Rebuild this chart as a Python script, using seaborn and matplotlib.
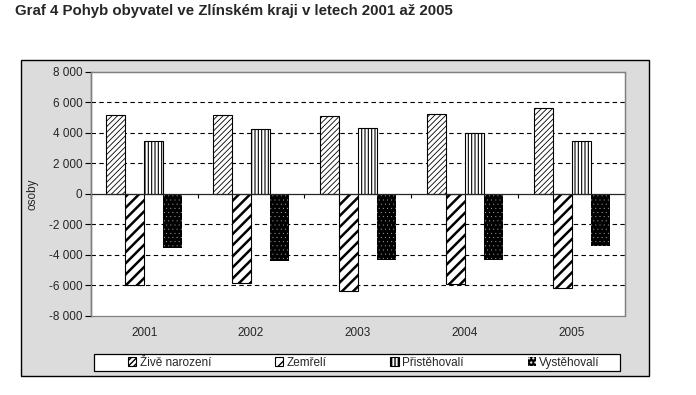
import pandas as pd
import numpy as np
import matplotlib
matplotlib.use("Agg")
import matplotlib.pyplot as plt
import matplotlib.patches as mpatches
import matplotlib.transforms as mtransforms
from matplotlib.ticker import FuncFormatter
import seaborn as sns

# data
roky = ["2001", "2002", "2003", "2004", "2005"]
ukazatele = ["Živě narození", "Zemřelí", "Přistěhovalí", "Vystěhovalí"]
zive_narozeni = [5200, 5200, 5100, 5250, 5650]
zemreli = [-5980, -5850, -6380, -5950, -6200]
pristehovali = [3450, 4250, 4330, 3980, 3500]
vystehovali = [-3540, -4400, -4350, -4330, -3450]
y_ticks = [-8000, -6000, -4000, -2000, 0, 2000, 4000, 6000, 8000]

df = pd.DataFrame({
    "rok": roky * 4,
    "ukazatel": np.repeat(ukazatele, len(roky)),
    "osoby": zive_narozeni + zemreli + pristehovali + vystehovali,
})

sns.set_style("white")
plt.rcParams["font.family"] = ["Liberation Sans", "DejaVu Sans"]

fig = plt.figure(figsize=(6.96, 3.95), dpi=100)
fig.patch.set_facecolor("white")

# grey chart area with black border
fig.patches.append(mpatches.Rectangle((20.5 / 696, 1 - 375.5 / 395), 628 / 696, 316 / 395,
                                      transform=fig.transFigure, facecolor="#dcdcdc",
                                      edgecolor="black", linewidth=1, zorder=-10))
# legend box
fig.patches.append(mpatches.Rectangle((93.5 / 696, 1 - 370.8 / 395), 526 / 696, 16.5 / 395,
                                      transform=fig.transFigure, facecolor="white",
                                      edgecolor="black", linewidth=0.9, zorder=-5))

ax = fig.add_axes([90.7 / 696, 1 - 315.7 / 395, 534.3 / 696, 243.7 / 395])
ax.set_facecolor("white")

sns.barplot(data=df, x="rok", y="osoby", hue="ukazatel", hue_order=ukazatele,
            palette=["white"] * 4, width=0.71, edgecolor="black", linewidth=0.8,
            saturation=1, legend=False, ax=ax, zorder=3)

styles = [
    dict(hatch="//////", face="white", edge="black", hlw=0.6),
    dict(hatch="///", face="white", edge="black", hlw=1.8),
    dict(hatch="|||||", face="white", edge="black", hlw=0.8),
    dict(hatch="....", face="black", edge="white", hlw=0.05),
]
for cont, st in zip(ax.containers, styles):
    for p in cont.patches:
        p.set_hatch(st["hatch"])
        p.set_facecolor(st["face"])
        p.set_edgecolor(st["edge"])
        if hasattr(p, "set_hatch_linewidth"):
            p.set_hatch_linewidth(st["hlw"])
        if st["face"] == "black":
            p.set_linewidth(0)

ax.set_ylim(y_ticks[0], y_ticks[-1])
ax.set_xlim(-0.5, len(roky) - 0.5)
ax.set_yticks(y_ticks)
ax.yaxis.set_major_formatter(FuncFormatter(lambda v, pos: f"{int(v):,}".replace(",", " ")))
ax.tick_params(axis="y", direction="out", length=4, width=0.8, color="black",
               labelsize=8.5, pad=2, left=True)

# dashed grid, without the lines on the frame
ax.yaxis.grid(True, color="black", linestyle=(0, (4, 3)), linewidth=0.8)
ax.set_axisbelow(True)
for i, gl in enumerate(ax.yaxis.get_gridlines()):
    if y_ticks[i] in (y_ticks[0], y_ticks[-1], 0):
        gl.set_visible(False)

# category axis on the zero line, ticks between categories
ax.spines["bottom"].set_position(("data", 0))
ax.spines["bottom"].set_linewidth(0.9)
ax.spines["bottom"].set_zorder(4)
ax.set_xticks(np.arange(len(roky) + 1) - 0.5)
ax.set_xticklabels([])
ax.tick_params(axis="x", direction="out", length=3, width=0.8, color="black", bottom=True)
ax.set_xlabel("")

for s in ["top", "right"]:
    ax.spines[s].set_color("#808080")
    ax.spines[s].set_linewidth(0.9)
ax.spines["left"].set_color("black")
ax.spines["left"].set_linewidth(0.9)
ax.add_patch(mpatches.Rectangle((0, 0), 1, 1, transform=ax.transAxes, fill=False,
                                edgecolor="#808080", linewidth=0.9, zorder=5, clip_on=False))

trans = mtransforms.blended_transform_factory(ax.transData, ax.transAxes)
for i, r in enumerate(roky):
    ax.text(i, -0.07, r, transform=trans, ha="center", va="center", fontsize=8.5)

ax.set_ylabel("osoby", fontsize=8.5)
ax.yaxis.set_label_coords(-0.098, 0.5)

leg = fig.legend(ax.containers, ukazatele, loc="center left", ncol=4, mode="expand",
                 bbox_to_anchor=(128 / 696, 1 - 370.8 / 395, 472 / 696, 16.5 / 395),
                 frameon=False, fontsize=8.5, handlelength=0.7, handleheight=0.7,
                 handletextpad=0.3, borderpad=0, borderaxespad=0)

fig.text(15 / 696, 1 - 11 / 395, "Graf 4 Pohyb obyvatel ve Zlínském kraji v letech 2001 až 2005",
         fontsize=10.8, fontweight="bold", ha="left", va="center")

fig.savefig("out.png", dpi=100)
